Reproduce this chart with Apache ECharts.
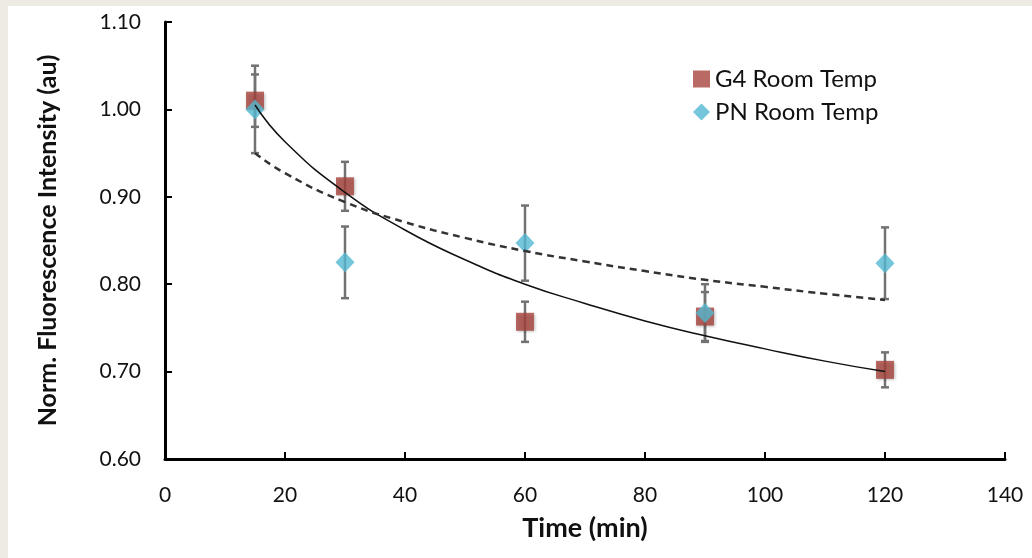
<!DOCTYPE html>
<html>
<head>
<meta charset="utf-8">
<script src="https://cdn.jsdelivr.net/npm/echarts@6/dist/echarts.min.js"></script>
<style>
  html, body { margin: 0; padding: 0; background: #eeeae4; }
  #chart { width: 1032px; height: 558px; }
</style>
</head>
<body>
<div id="chart"></div>
<script>
// sampling times (min)
var times = [15, 30, 60, 90, 120]
// G4 room temp, mean and +/- error
var g4Values = [1.01, 0.912, 0.757, 0.763, 0.702]
var g4Errors = [0.03, 0.028, 0.023, 0.028, 0.02]
// PN room temp, mean and +/- error
var pnValues = [1.00, 0.825, 0.847, 0.767, 0.824]
var pnErrors = [0.05, 0.041, 0.043, 0.033, 0.041]
// trend lines
var trendTimes = [15, 20, 30, 40, 50, 60, 70, 80, 90, 100, 110, 120]
var g4Trend = [1.005, 0.963, 0.905, 0.862, 0.828, 0.80, 0.778, 0.758, 0.741, 0.726, 0.712, 0.70]
var pnTrend = [0.95, 0.927, 0.894, 0.871, 0.853, 0.838, 0.826, 0.815, 0.805, 0.797, 0.789, 0.782]

var fontFamily = 'Lato, "Open Sans", sans-serif'

function pairs(xs, ys) {
  return xs.map(function (x, i) { return [x, ys[i]] })
}
function errorData(xs, ys, errs) {
  return xs.map(function (x, i) { return [x, ys[i] - errs[i], ys[i] + errs[i]] })
}
function renderErrorBar(params, api) {
  var low = api.coord([api.value(0), api.value(1)])
  var high = api.coord([api.value(0), api.value(2)])
  var cap = 4
  var style = {stroke: '#727272', lineWidth: 2.5}
  return {
    type: 'group',
    children: [
      {type: 'line', shape: {x1: low[0], y1: low[1], x2: high[0], y2: high[1]}, style: style},
      {type: 'line', shape: {x1: low[0] - cap, y1: low[1], x2: low[0] + cap, y2: low[1]}, style: style},
      {type: 'line', shape: {x1: high[0] - cap, y1: high[1], x2: high[0] + cap, y2: high[1]}, style: style}
    ]
  }
}

var chart = echarts.init(document.getElementById('chart'))
var option = {
  backgroundColor: '#eeeae4',
  animation: false,
  graphic: [{
    type: 'rect', z: -10, silent: true,
    shape: {x: 8, y: 6, width: 1030, height: 560},
    style: {fill: '#ffffff'}
  }],
  grid: {left: 165, top: 22, right: 27, bottom: 99},
  legend: {
    orient: 'vertical',
    left: 688,
    top: 62,
    itemGap: 9,
    itemWidth: 17,
    itemHeight: 17,
    textStyle: {fontFamily: fontFamily, fontSize: 24, color: '#111'},
    data: [
      {name: 'G4 Room Temp', icon: 'rect'},
      {name: 'PN Room Temp', icon: 'diamond'}
    ]
  },
  xAxis: {
    type: 'value',
    min: 0,
    max: 140,
    interval: 20,
    name: 'Time (min)',
    nameLocation: 'middle',
    nameGap: 56,
    nameTextStyle: {fontFamily: fontFamily, fontSize: 27, fontWeight: 'bold', color: '#111'},
    axisLine: {lineStyle: {color: '#000', width: 3}},
    axisTick: {inside: true, length: 7, lineStyle: {color: '#000', width: 2}},
    axisLabel: {fontFamily: fontFamily, fontSize: 21, color: '#111', margin: 26},
    splitLine: {show: false}
  },
  yAxis: {
    type: 'value',
    min: 0.6,
    max: 1.1,
    interval: 0.1,
    name: 'Norm. Fluorescence Intensity (au)',
    nameLocation: 'middle',
    nameGap: 105,
    nameTextStyle: {fontFamily: fontFamily, fontSize: 25, fontWeight: 'bold', color: '#111'},
    axisLine: {lineStyle: {color: '#000', width: 3}},
    axisTick: {inside: true, length: 7, lineStyle: {color: '#000', width: 2}},
    axisLabel: {
      fontFamily: fontFamily, fontSize: 21, color: '#111', margin: 24,
      formatter: function (v) { return v.toFixed(2) }
    },
    splitLine: {show: false}
  },
  series: [
    {
      name: 'G4 error', type: 'custom', z: 1, silent: true,
      renderItem: renderErrorBar,
      encode: {x: 0, y: [1, 2]},
      data: errorData(times, g4Values, g4Errors)
    },
    {
      name: 'PN error', type: 'custom', z: 1, silent: true,
      renderItem: renderErrorBar,
      encode: {x: 0, y: [1, 2]},
      data: errorData(times, pnValues, pnErrors)
    },
    {
      name: 'G4 Room Temp', type: 'scatter', z: 3,
      symbol: 'rect', symbolSize: 18,
      itemStyle: {color: '#a8453f', shadowBlur: 3, shadowColor: 'rgba(0,0,0,0.35)', shadowOffsetX: 1, shadowOffsetY: 1},
      data: pairs(times, g4Values)
    },
    {
      name: 'PN Room Temp', type: 'scatter', z: 4,
      symbol: 'diamond', symbolSize: [19, 20],
      itemStyle: {color: '#52b8d1'},
      data: pairs(times, pnValues)
    },
    {
      name: 'G4 trend', type: 'line', z: 5, smooth: true, showSymbol: false, silent: true,
      lineStyle: {color: '#111', width: 1.5},
      data: pairs(trendTimes, g4Trend)
    },
    {
      name: 'PN trend', type: 'line', z: 5, smooth: true, showSymbol: false, silent: true,
      lineStyle: {color: '#333', width: 2.5, type: [7, 5]},
      data: pairs(trendTimes, pnTrend)
    }
  ]
}
chart.setOption(option)
</script>
</body>
</html>
